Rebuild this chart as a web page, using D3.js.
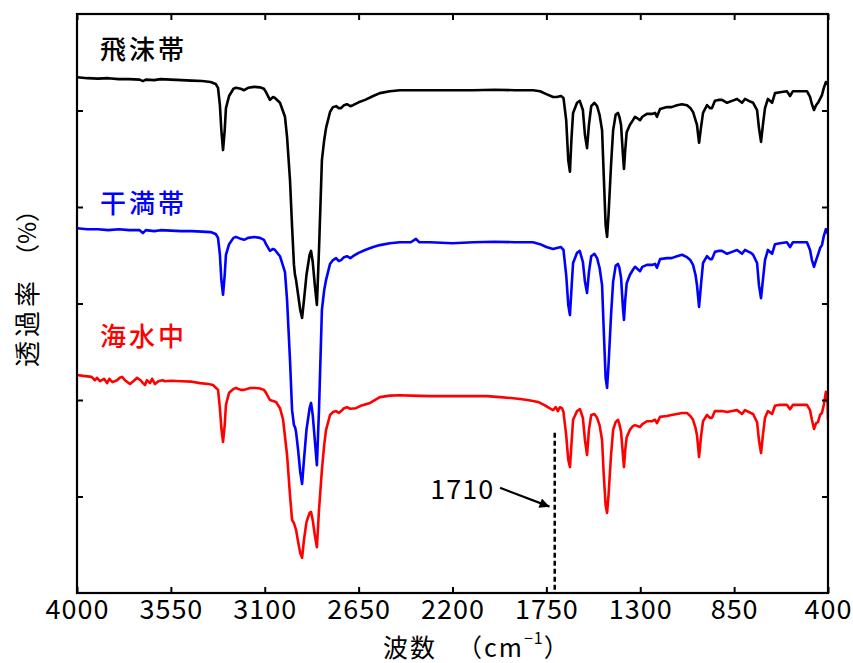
<!DOCTYPE html>
<html><head><meta charset="utf-8">
<script src="https://cdn.jsdelivr.net/npm/d3@7"></script>
<style>
html,body{margin:0;padding:0;background:#fff;}
svg{display:block;}
text{font-family:"Noto Sans CJK JP","Noto Sans",sans-serif;}
</style></head>
<body>
<svg id="chart" width="853" height="663"></svg>
<script>
// ---------- data ----------
const xTicks = [4000, 3550, 3100, 2650, 2200, 1750, 1300, 850, 400];
const yTicks = [20, 40, 60, 80, 100];
const seriesNames = ["飛沫帯", "干満帯", "海水中"];
const seriesColors = ["#000000", "#0000ff", "#ff0000"];
const annotationWavenumber = 1710;
const annotationLabel = "1710";

// [wavenumber (cm-1), transmittance (offset, arbitrary %)]
const spraySpectrum = [
[4000,106.9],[3950,106.7],[3900,106.6],[3850,106.7],[3800,106.5],[3750,106.5],[3700,106.4],[3684,106.1],[3670,106.4],[3630,106.3],
[3600,106.5],[3550,106.4],[3500,106.3],[3450,106.2],[3400,106.1],[3360,105.9],[3335,105.5],[3324,104.7],[3315,101.1],[3308,95.9],
[3300,91.8],[3292,95.9],[3286,100.5],[3271,103.0],[3250,104.5],[3238,104.7],[3215,104.5],[3199,104.2],[3180,104.7],[3150,104.9],
[3123,104.8],[3104,104.5],[3094,103.8],[3075,102.2],[3060,102.8],[3051,102.6],[3027,101.6],[3003,98.7],[2993,94.5],[2979,85.6],
[2969,75.9],[2960,68.0],[2955,65.9],[2950,64.9],[2940,61.8],[2930,58.7],[2921,57.0],[2912,60.7],[2900,65.9],[2885,70.1],
[2878,70.9],[2870,68.6],[2860,63.8],[2850,59.7],[2840,71.1],[2826,89.7],[2815,93.9],[2806,96.4],[2787,99.7],[2773,100.7],
[2758,100.9],[2745,100.5],[2734,100.5],[2720,101.1],[2706,101.3],[2690,100.9],[2677,101.1],[2650,101.7],[2619,102.2],[2580,103.0],
[2548,103.6],[2500,104.0],[2452,104.2],[2400,104.2],[2308,104.2],[2200,104.2],[2100,104.2],[2000,104.3],[1900,104.2],[1814,104.2],
[1780,104.0],[1750,103.4],[1718,102.8],[1700,102.8],[1680,103.0],[1668,102.6],[1655,98.0],[1645,89.7],[1637,87.3],[1630,93.9],
[1622,99.5],[1603,101.6],[1590,102.0],[1575,100.1],[1565,94.9],[1555,92.2],[1546,97.0],[1535,100.9],[1520,101.6],[1507,100.9],
[1495,99.1],[1483,95.9],[1475,86.6],[1466,76.3],[1459,73.8],[1452,78.4],[1440,88.7],[1430,95.9],[1418,99.1],[1407,99.5],
[1400,98.7],[1392,97.0],[1383,90.8],[1378,87.9],[1372,91.8],[1365,95.5],[1350,97.0],[1335,98.0],[1325,98.7],[1301,98.0],
[1290,98.7],[1268,99.3],[1245,99.3],[1229,99.5],[1220,98.7],[1205,100.3],[1172,100.7],[1150,100.7],[1124,101.1],[1100,101.3],
[1076,101.1],[1060,100.5],[1047,99.7],[1035,98.0],[1028,97.0],[1018,93.3],[1009,96.4],[999,99.5],[980,101.1],[966,100.5],
[956,100.5],[942,102.0],[925,102.2],[908,102.2],[884,101.6],[860,102.0],[836,102.4],[812,101.6],[798,102.4],[770,101.8],
[759,101.6],[740,100.1],[731,96.4],[721,93.5],[712,97.0],[702,100.5],[688,102.4],[668,101.6],[654,103.6],[630,103.8],
[597,104.0],[582,103.0],[568,104.0],[530,104.0],[501,104.0],[486,102.8],[477,101.3],[467,100.1],[457,101.1],[448,101.6],
[438,102.4],[429,103.2],[420,104.7],[410,105.9],[400,105.5]
];

const tidalSpectrum = [
[4000,75.6],[3950,75.4],[3900,75.4],[3850,75.2],[3800,75.4],[3750,75.2],[3700,75.2],[3684,74.6],[3670,75.2],[3630,75.0],
[3600,75.2],[3550,75.1],[3500,75.0],[3450,75.0],[3400,74.9],[3360,74.8],[3335,74.4],[3324,73.6],[3315,70.1],[3308,64.9],
[3300,61.8],[3292,65.9],[3286,70.1],[3271,72.3],[3250,73.6],[3238,73.8],[3215,73.4],[3199,73.2],[3180,73.6],[3150,73.8],
[3123,73.6],[3104,73.2],[3094,72.3],[3075,70.9],[3060,71.3],[3051,71.1],[3027,69.8],[3003,66.5],[2993,60.7],[2979,48.3],
[2969,37.9],[2960,34.8],[2955,34.4],[2950,33.4],[2940,29.6],[2930,25.1],[2921,22.6],[2912,27.6],[2900,33.8],[2885,38.3],
[2878,39.4],[2870,36.9],[2860,31.7],[2850,26.5],[2840,37.9],[2826,58.7],[2815,62.8],[2806,64.9],[2787,68.2],[2773,69.0],
[2758,69.4],[2745,68.8],[2734,69.0],[2720,69.6],[2706,69.8],[2690,69.4],[2677,69.8],[2650,70.5],[2619,71.1],[2580,71.7],
[2548,72.1],[2500,72.5],[2452,72.7],[2400,72.7],[2375,73.4],[2360,72.7],[2308,72.7],[2200,72.5],[2100,72.7],[2000,72.8],
[1900,72.7],[1814,72.7],[1780,72.3],[1750,71.7],[1718,71.3],[1700,71.5],[1680,71.7],[1668,71.1],[1655,65.9],[1645,59.7],
[1637,57.6],[1630,62.8],[1622,68.4],[1603,70.5],[1590,70.9],[1575,68.6],[1565,64.5],[1555,62.2],[1546,66.5],[1535,69.8],
[1520,70.3],[1507,69.4],[1495,67.4],[1483,63.8],[1475,54.5],[1466,44.6],[1459,42.5],[1452,47.3],[1440,57.6],[1430,64.5],
[1418,67.8],[1407,68.2],[1400,67.4],[1392,65.3],[1383,59.1],[1378,56.6],[1372,60.7],[1365,64.2],[1350,65.9],[1335,67.0],
[1325,67.6],[1301,66.7],[1290,67.6],[1268,68.0],[1245,68.0],[1229,68.2],[1220,67.4],[1205,69.2],[1172,69.4],[1150,69.4],
[1124,69.8],[1100,70.1],[1076,69.6],[1060,69.0],[1047,68.0],[1035,65.9],[1028,63.8],[1018,59.3],[1009,63.8],[999,68.4],
[980,69.8],[966,69.2],[956,69.2],[942,70.7],[925,70.9],[908,70.9],[884,70.3],[860,70.7],[836,71.1],[812,70.3],
[798,71.1],[770,70.5],[759,70.1],[740,68.4],[731,63.8],[721,61.1],[712,64.9],[702,69.0],[688,71.1],[668,70.3],
[654,72.3],[630,72.5],[597,72.7],[582,71.7],[568,72.7],[530,72.7],[501,72.7],[486,71.1],[477,69.0],[467,67.6],
[457,69.0],[448,70.1],[438,71.5],[429,72.1],[420,74.0],[410,75.4],[400,74.4]
];

const seawaterSpectrum = [
[4000,45.2],[3970,45.0],[3930,44.8],[3914,44.1],[3904,44.6],[3890,43.9],[3870,44.4],[3856,43.5],[3845,44.4],[3830,43.7],
[3808,44.1],[3795,44.6],[3784,44.8],[3770,44.1],[3746,43.3],[3730,43.9],[3712,44.6],[3695,44.1],[3684,43.5],[3674,43.1],
[3665,44.1],[3650,43.5],[3640,44.4],[3626,43.3],[3610,43.9],[3590,44.1],[3578,43.9],[3550,44.0],[3500,43.9],[3450,43.8],
[3410,43.5],[3370,43.3],[3348,43.1],[3324,42.1],[3315,38.3],[3308,34.2],[3300,31.3],[3292,34.8],[3286,39.0],[3271,41.5],
[3250,42.3],[3238,42.5],[3215,42.1],[3199,42.1],[3170,42.5],[3142,42.5],[3123,42.4],[3104,42.1],[3094,41.5],[3075,40.0],
[3060,39.8],[3046,39.6],[3027,38.3],[3012,35.9],[2993,28.6],[2979,20.3],[2969,15.1],[2960,14.5],[2950,13.1],[2940,10.6],
[2930,8.3],[2921,7.3],[2912,11.0],[2900,14.7],[2885,16.6],[2878,16.8],[2870,15.1],[2860,12.0],[2850,9.5],[2840,17.2],
[2826,25.5],[2815,30.7],[2806,33.8],[2787,36.9],[2773,37.5],[2758,37.7],[2745,37.3],[2734,37.7],[2720,38.3],[2706,38.5],
[2690,38.2],[2663,38.3],[2640,38.8],[2595,39.4],[2548,40.6],[2500,40.9],[2452,41.0],[2400,40.9],[2308,40.8],[2200,40.8],
[2100,40.8],[2035,40.8],[1972,40.6],[1920,40.4],[1876,40.2],[1840,40.0],[1814,39.8],[1790,39.6],[1757,38.9],[1735,38.3],
[1718,37.9],[1705,38.5],[1695,37.7],[1685,38.5],[1675,38.3],[1668,37.5],[1655,32.7],[1645,27.6],[1637,26.1],[1630,30.7],
[1622,35.9],[1603,37.7],[1589,38.1],[1575,36.3],[1565,31.7],[1555,28.6],[1546,33.8],[1535,36.9],[1520,37.1],[1507,36.3],
[1495,34.8],[1483,31.7],[1475,24.5],[1466,18.2],[1459,16.6],[1452,20.3],[1440,28.6],[1430,33.8],[1418,35.4],[1407,35.9],
[1400,35.0],[1392,33.4],[1383,28.6],[1378,26.1],[1372,29.6],[1365,32.3],[1350,33.8],[1335,34.6],[1325,34.8],[1301,34.4],
[1290,35.0],[1268,35.6],[1245,35.6],[1229,35.9],[1220,35.2],[1205,36.5],[1172,36.7],[1150,36.9],[1124,37.1],[1100,37.3],
[1076,37.3],[1060,36.7],[1047,35.9],[1035,34.2],[1028,32.7],[1018,28.2],[1009,32.3],[999,35.6],[980,36.9],[966,36.3],
[956,36.3],[942,37.7],[925,37.7],[908,37.7],[884,37.5],[860,37.7],[836,37.9],[812,37.1],[798,37.9],[770,37.3],
[759,37.1],[740,35.4],[731,31.7],[721,29.0],[712,32.7],[702,36.3],[688,37.7],[668,37.1],[654,38.8],[630,39.0],
[597,39.0],[582,38.1],[568,39.0],[530,39.0],[501,39.0],[486,37.9],[477,35.9],[467,34.0],[457,35.2],[448,35.4],
[438,36.9],[429,37.3],[420,39.0],[410,41.7],[403,41.2],[400,35.9]
];

const spectra = [spraySpectrum, tidalSpectrum, seawaterSpectrum];
// label anchor positions in data units [wavenumber, transmittance]
const labelAnchors = [[3890, 113.1], [3890, 81.2], [3890, 53.6]];
const annotationLineTop = 33.2;
const annotationText = [2000, 21.8];
const arrowStart = [1972, 21.8];
const arrowEnd = [1735, 17.9];

// ---------- layout ----------
const svg = d3.select("#chart");
const L = 77, R = 828, T = 14, B = 593;
const x = d3.scaleLinear().domain([4000, 400]).range([L, R]);
const y = d3.scaleLinear().domain([0, 120]).range([B, T]);

const defs = svg.append("defs");
defs.append("clipPath").attr("id", "clip").append("rect")
  .attr("x", L).attr("y", T).attr("width", R - L).attr("height", B - T);
defs.append("marker").attr("id", "arrow").attr("viewBox", "0 0 10 10")
  .attr("refX", 10).attr("refY", 5).attr("markerWidth", 7).attr("markerHeight", 4.5)
  .attr("markerUnits", "strokeWidth").attr("orient", "auto")
  .append("path").attr("d", "M0,0 L10,5 L0,10 Z").attr("fill", "#000");

// spectra
const line = d3.line().x(d => x(d[0])).y(d => y(d[1]));
svg.append("g").attr("clip-path", "url(#clip)")
  .selectAll("path").data(spectra).join("path")
  .attr("d", line).attr("fill", "none")
  .attr("stroke", (d, i) => seriesColors[i])
  .attr("stroke-width", 2.6).attr("stroke-linejoin", "round");

// axes (inward ticks on all four sides)
const fontTick = 27;
const gB = svg.append("g").attr("transform", `translate(0,${B})`)
  .call(d3.axisBottom(x).tickValues(xTicks).tickSizeInner(-6).tickSizeOuter(0).tickPadding(7).tickFormat(d3.format("d")));
const gT = svg.append("g").attr("transform", `translate(0,${T})`)
  .call(d3.axisTop(x).tickValues(xTicks).tickSizeInner(-6).tickSizeOuter(0).tickFormat(""));
const gL = svg.append("g").attr("transform", `translate(${L},0)`)
  .call(d3.axisLeft(y).tickValues(yTicks).tickSizeInner(-6).tickSizeOuter(0).tickFormat(""));
const gR = svg.append("g").attr("transform", `translate(${R},0)`)
  .call(d3.axisRight(y).tickValues(yTicks).tickSizeInner(-6).tickSizeOuter(0).tickFormat(""));
[gB, gT, gL, gR].forEach(g => {
  g.select(".domain").remove();
  g.selectAll(".tick line").attr("stroke", "#000").attr("stroke-width", 2);
});
gB.selectAll(".tick text").attr("font-size", fontTick).attr("fill", "#000")
  .attr("font-family", '"Noto Sans CJK JP", sans-serif').attr("letter-spacing", 1);

// frame
svg.append("rect").attr("x", L).attr("y", T).attr("width", R - L).attr("height", B - T)
  .attr("fill", "none").attr("stroke", "#000").attr("stroke-width", 2.2);

// series labels
svg.selectAll(".slabel").data(seriesNames).join("text")
  .attr("class", "slabel")
  .attr("x", (d, i) => x(labelAnchors[i][0]))
  .attr("y", (d, i) => y(labelAnchors[i][1]))
  .attr("dominant-baseline", "central")
  .attr("font-size", 26).attr("font-weight", 500).attr("letter-spacing", 3)
  .attr("fill", (d, i) => seriesColors[i])
  .text(d => d);

// annotation
svg.append("line")
  .attr("x1", x(annotationWavenumber)).attr("x2", x(annotationWavenumber))
  .attr("y1", y(annotationLineTop)).attr("y2", y(0))
  .attr("stroke", "#000").attr("stroke-width", 2.5).attr("stroke-dasharray", "5,3");
svg.append("text").attr("x", x(annotationText[0])).attr("y", y(annotationText[1]))
  .attr("text-anchor", "end").attr("dominant-baseline", "central")
  .attr("font-size", fontTick).attr("letter-spacing", 1).text(annotationLabel);
svg.append("line")
  .attr("x1", x(arrowStart[0])).attr("y1", y(arrowStart[1]))
  .attr("x2", x(arrowEnd[0])).attr("y2", y(arrowEnd[1]))
  .attr("stroke", "#000").attr("stroke-width", 2.2).attr("marker-end", "url(#arrow)");

// axis titles
const xt = svg.append("text").attr("y", 646)
  .attr("dominant-baseline", "central")
  .attr("font-size", 25).attr("letter-spacing", 2);
xt.append("tspan").attr("x", 383).text("波数");
xt.append("tspan").attr("x", 457).text("（cm");
xt.append("tspan").attr("font-size", 16).attr("dy", -9).attr("letter-spacing", 1).text("−1");
xt.append("tspan").attr("dy", 9).text("）");

svg.append("text")
  .attr("transform", "translate(25,322) rotate(-90)")
  .attr("text-anchor", "middle").attr("dominant-baseline", "central")
  .attr("font-size", 26).attr("letter-spacing", 4)
  .text("透過率");
svg.append("text")
  .attr("transform", "translate(25,233) rotate(-90)")
  .attr("text-anchor", "middle").attr("dominant-baseline", "central")
  .attr("font-size", 24)
  .text("（%）");
</script>
</body></html>
